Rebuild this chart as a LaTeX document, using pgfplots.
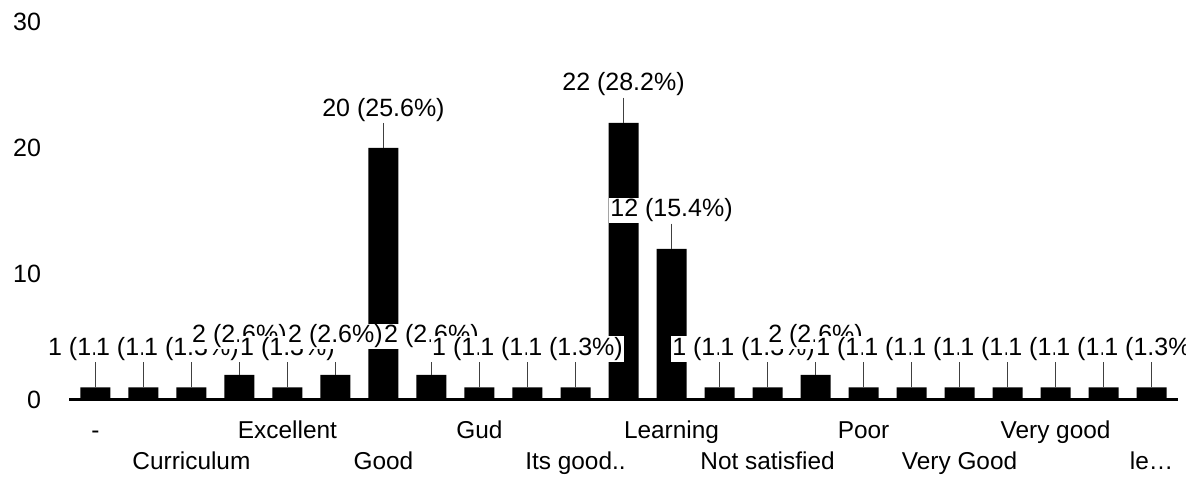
\documentclass[border=0pt]{standalone}
\usepackage{fontspec}
\setmainfont{Liberation Sans}
\usepackage{pgfplots}
\pgfplotsset{compat=1.18}
\begin{document}
\begin{tikzpicture}
\begin{axis}[
  at={(0,0)}, anchor=south west,
  scale only axis, width=554.5pt, height=189pt,
  xmin=-0.55, xmax=22.55, ymin=0, ymax=30,
  axis x line=bottom, axis y line=left,
  axis line style={-},
  x axis line style={line width=1.5pt},
  y axis line style={draw=none},
  ytick={0,10,20,30},
  major tick length=0pt,
  tick style={draw=none},
  /pgf/number format/assume math mode=true,
  yticklabel style={font=\fontsize{12.5}{14}\selectfont, xshift=-10.5pt},
  xtick={0,4,8,12,16,20},
  xticklabels={-, Excellent, Gud, Learning, Poor, Very good},
  extra x ticks={2,6,10,14,18,22},
  extra x tick labels={Curriculum, Good, Its good.., Not satisfied, Very Good, le…},
  extra x tick style={grid=none, xticklabel style={yshift=-15.5pt}},
  xticklabel style={font=\fontsize{12.2}{14}\selectfont, text height=8.7pt, text depth=2.5pt, yshift=-7pt},
  clip=false,
  point meta=explicit symbolic,
  nodes near coords,
  every node near coord/.append style={font=\fontsize{12.5}{14}\selectfont, fill=white, inner sep=0.5pt, text height=9.2pt, text depth=2.6pt, anchor=south, yshift=12.6pt},
]
\addplot[ybar, bar width=15pt, fill=black, draw=none,
  error bars/.cd, y dir=plus, y fixed=2, error mark=none,
  error bar style={line width=0.7pt, black!75}]
coordinates {
(0,1) [1 (1.3\%)]
(1,1) [1 (1.3\%)]
(2,1) [1 (1.3\%)]
(3,2) [2 (2.6\%)]
(4,1) [1 (1.3\%)]
(5,2) [2 (2.6\%)]
(6,20) [20 (25.6\%)]
(7,2) [2 (2.6\%)]
(8,1) [1 (1.3\%)]
(9,1) [1 (1.3\%)]
(10,1) [1 (1.3\%)]
(11,22) [22 (28.2\%)]
(12,12) [12 (15.4\%)]
(13,1) [1 (1.3\%)]
(14,1) [1 (1.3\%)]
(15,2) [2 (2.6\%)]
(16,1) [1 (1.3\%)]
(17,1) [1 (1.3\%)]
(18,1) [1 (1.3\%)]
(19,1) [1 (1.3\%)]
(20,1) [1 (1.3\%)]
(21,1) [1 (1.3\%)]
(22,1) [1 (1.3\%)]
};
\end{axis}
\pgfresetboundingbox
\path[use as bounding box] (-34.5pt,-43pt) rectangle (558.5pt,200pt);
\end{tikzpicture}
\end{document}
